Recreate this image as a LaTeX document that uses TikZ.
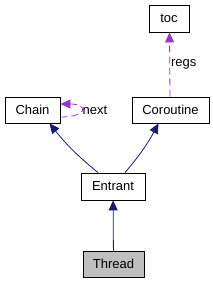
\documentclass[tikz,border=0pt]{standalone}
\usepackage{fontspec}
\setmainfont{Liberation Sans}
\usepackage{tikz}
\usetikzlibrary{arrows.meta,positioning}

\definecolor{edgenavy}{HTML}{191970}
\definecolor{edgeorchid}{HTML}{9A32CD}
\definecolor{thisgray}{HTML}{BFBFBF}

\tikzset{
  classbox/.style={draw, rectangle, line width=0.8pt, inner sep=0pt, minimum height=26pt, font=\fontsize{13}{15}\selectfont},
  inherit/.style={edgenavy, line width=0.8pt, -{Triangle[length=10pt,width=9pt]}},
  usage/.style={edgeorchid, line width=0.8pt, dash pattern=on 7pt off 4pt, -{Triangle[length=10pt,width=9pt]}},
  edgelabel/.style={font=\fontsize{13}{15}\selectfont, inner sep=1pt, text=black}
}

\begin{document}
\begin{tikzpicture}[x=1pt, y=-1pt]
            \useasboundingbox (0,0) rectangle (212,283);
            % class boxes
            \node[classbox, minimum width=40pt, minimum height=27pt] (toc) at (169,18.5) {toc};
            \node[classbox, minimum width=55pt] (chain) at (32.5,110) {Chain};
            \node[classbox, minimum width=77pt] (coroutine) at (170.5,110) {Coroutine};
            \node[classbox, minimum width=64pt, minimum height=27pt] (entrant) at (113,186.5) {Entrant};
            \node[classbox, minimum width=61pt, fill=thisgray] (thread) at (113.5,264) {Thread};
            
            % inheritance (navy)
            \draw[inherit] (thread) -- (entrant);
            \draw[inherit] ([xshift=-15pt]entrant.north) to[bend left=6] ([xshift=17pt]chain.south);
            \draw[inherit] ([xshift=12pt]entrant.north) to[bend right=6] ([xshift=-12pt]coroutine.south);
            
            % usage (dashed purple)
            \draw[usage] ([xshift=-0.5pt]coroutine.north) -- node[edgelabel, right, pos=0.5] (regs) {regs} ([xshift=0.5pt]toc.south);
            \draw[usage] ([yshift=-7pt]chain.east) .. controls +(28,0) and +(28,0) .. ([yshift=6pt]chain.east);
            \node[edgelabel, right=0pt of chain.east, xshift=21pt] (next) {next};
        \end{tikzpicture}
\end{document}
